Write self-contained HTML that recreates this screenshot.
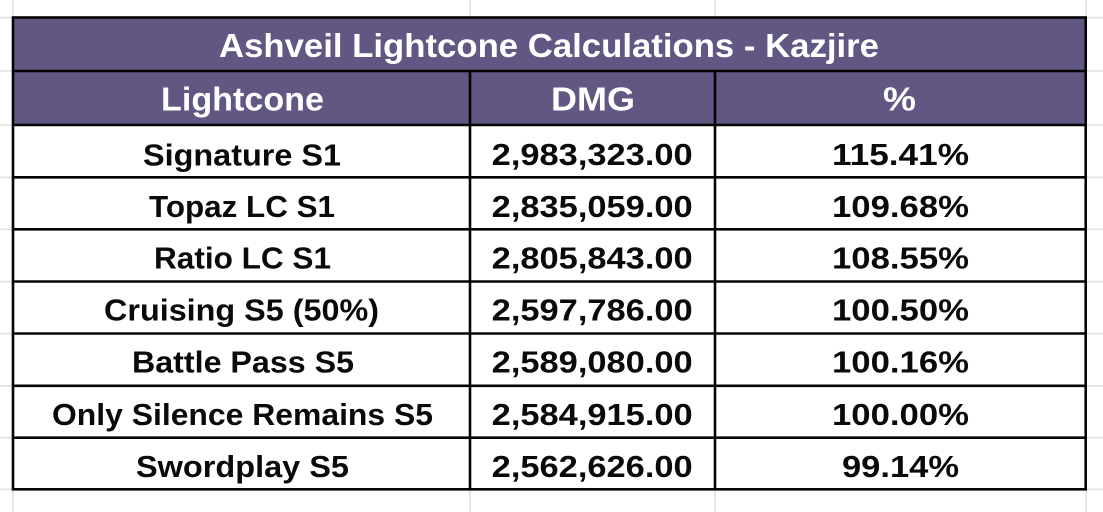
<!DOCTYPE html>
<html>
<head>
<meta charset="utf-8">
<style>
  html, body { margin:0; padding:0; background:#ffffff; }
  body { width:1103px; height:512px; overflow:hidden; }
  svg { display:block; }
  text { font-family: "Liberation Sans", "DejaVu Sans", sans-serif; font-weight:bold; }
</style>
</head>
<body>
<svg width="1103" height="512" viewBox="0 0 1103 512" xmlns="http://www.w3.org/2000/svg">
  <!-- background spreadsheet gridlines -->
  <g stroke="#e0e0e0" stroke-width="1.6">
    <line x1="13" y1="0" x2="13" y2="512"/>
    <line x1="470" y1="0" x2="470" y2="512"/>
    <line x1="715" y1="0" x2="715" y2="512"/>
    <line x1="1086" y1="0" x2="1086" y2="512"/>
    <line x1="0" y1="17.5" x2="1103" y2="17.5"/>
    <line x1="0" y1="71" x2="1103" y2="71"/>
    <line x1="0" y1="125" x2="1103" y2="125"/>
    <line x1="0" y1="177.3" x2="1103" y2="177.3"/>
    <line x1="0" y1="229.3" x2="1103" y2="229.3"/>
    <line x1="0" y1="281.5" x2="1103" y2="281.5"/>
    <line x1="0" y1="333.5" x2="1103" y2="333.5"/>
    <line x1="0" y1="385.8" x2="1103" y2="385.8"/>
    <line x1="0" y1="437.7" x2="1103" y2="437.7"/>
    <line x1="0" y1="489.3" x2="1103" y2="489.3"/>
  </g>

  <!-- table fills -->
  <rect x="13" y="17.5" width="1073" height="471.8" fill="#ffffff"/>
  <rect x="13" y="17.5" width="1073" height="107.5" fill="#625683"/>

  <!-- black borders -->
  <g stroke="#050505" stroke-width="2.6" fill="none">
    <rect x="13" y="17.5" width="1072.7" height="471.8"/>
    <line x1="13" y1="71" x2="1085.7" y2="71"/>
    <line x1="13" y1="125" x2="1085.7" y2="125"/>
    <line x1="13" y1="177.3" x2="1085.7" y2="177.3"/>
    <line x1="13" y1="229.3" x2="1085.7" y2="229.3"/>
    <line x1="13" y1="281.5" x2="1085.7" y2="281.5"/>
    <line x1="13" y1="333.5" x2="1085.7" y2="333.5"/>
    <line x1="13" y1="385.8" x2="1085.7" y2="385.8"/>
    <line x1="13" y1="437.7" x2="1085.7" y2="437.7"/>
    <line x1="470" y1="71" x2="470" y2="489.3"/>
    <line x1="715" y1="71" x2="715" y2="489.3"/>
  </g>

  <!-- header text -->
  <g fill="#ffffff" font-size="33" text-anchor="middle">
    <text x="549" y="57" textLength="660" lengthAdjust="spacingAndGlyphs">Ashveil Lightcone Calculations - Kazjire</text>
    <text x="242.5" y="110.5" textLength="163" lengthAdjust="spacingAndGlyphs">Lightcone</text>
    <text x="593" y="110.5" textLength="84" lengthAdjust="spacingAndGlyphs">DMG</text>
    <text x="899.5" y="110.5" textLength="33" lengthAdjust="spacingAndGlyphs">%</text>
  </g>

  <!-- body text -->
  <g fill="#0a0a0a" font-size="31" text-anchor="middle">
    <text x="242" y="165.5" textLength="198" lengthAdjust="spacingAndGlyphs">Signature S1</text>
    <text x="242" y="216.8" textLength="186" lengthAdjust="spacingAndGlyphs">Topaz LC S1</text>
    <text x="242.5" y="268.5" textLength="177" lengthAdjust="spacingAndGlyphs">Ratio LC S1</text>
    <text x="241.5" y="320.5" textLength="275" lengthAdjust="spacingAndGlyphs">Cruising S5 (50%)</text>
    <text x="243" y="372.5" textLength="222" lengthAdjust="spacingAndGlyphs">Battle Pass S5</text>
    <text x="242.5" y="425" textLength="381" lengthAdjust="spacingAndGlyphs">Only Silence Remains S5</text>
    <text x="242.5" y="477" textLength="213" lengthAdjust="spacingAndGlyphs">Swordplay S5</text>

    <text x="592.2" y="165" textLength="201" lengthAdjust="spacingAndGlyphs">2,983,323.00</text>
    <text x="592.2" y="216.8" textLength="201" lengthAdjust="spacingAndGlyphs">2,835,059.00</text>
    <text x="592.2" y="268.5" textLength="201" lengthAdjust="spacingAndGlyphs">2,805,843.00</text>
    <text x="592.2" y="320.5" textLength="201" lengthAdjust="spacingAndGlyphs">2,597,786.00</text>
    <text x="592.2" y="372.5" textLength="201" lengthAdjust="spacingAndGlyphs">2,589,080.00</text>
    <text x="592.2" y="425" textLength="201" lengthAdjust="spacingAndGlyphs">2,584,915.00</text>
    <text x="592.2" y="477" textLength="201" lengthAdjust="spacingAndGlyphs">2,562,626.00</text>

    <text x="900.5" y="165" textLength="137" lengthAdjust="spacingAndGlyphs">115.41%</text>
    <text x="900.5" y="216.8" textLength="137" lengthAdjust="spacingAndGlyphs">109.68%</text>
    <text x="900.5" y="268.5" textLength="137" lengthAdjust="spacingAndGlyphs">108.55%</text>
    <text x="900.5" y="320.5" textLength="137" lengthAdjust="spacingAndGlyphs">100.50%</text>
    <text x="900.5" y="372.5" textLength="137" lengthAdjust="spacingAndGlyphs">100.16%</text>
    <text x="900.5" y="425" textLength="137" lengthAdjust="spacingAndGlyphs">100.00%</text>
    <text x="900.5" y="477" textLength="117" lengthAdjust="spacingAndGlyphs">99.14%</text>
  </g>
</svg>
</body>
</html>
